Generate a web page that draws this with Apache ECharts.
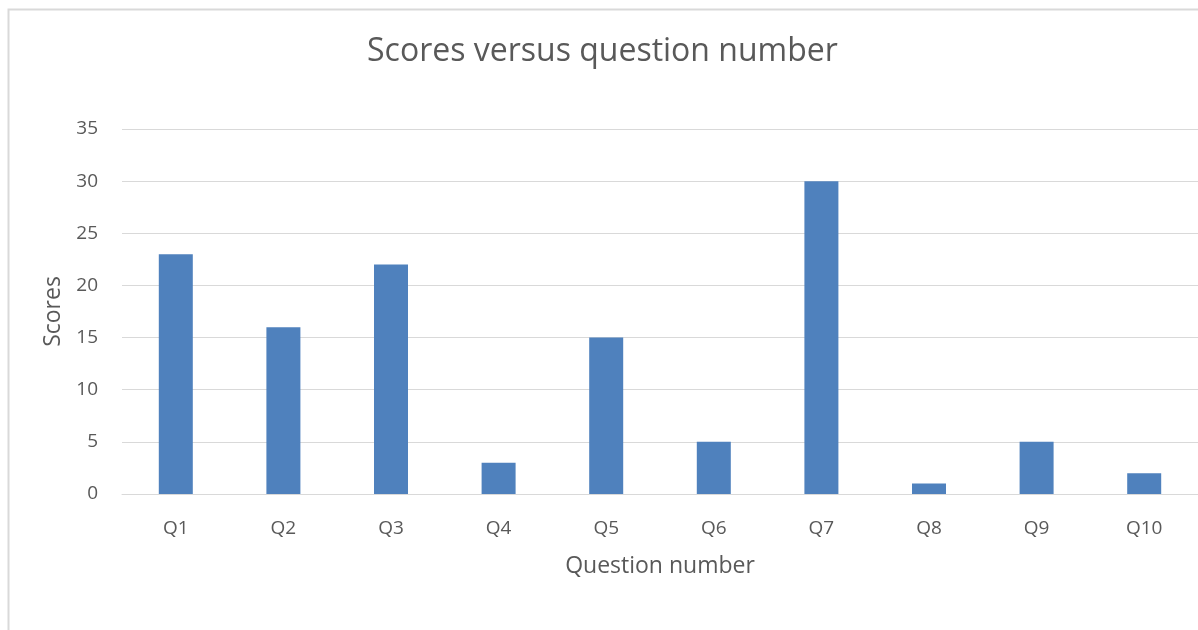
<!DOCTYPE html>
<html><head><meta charset="utf-8">
<script src="https://cdn.jsdelivr.net/npm/echarts@6/dist/echarts.min.js"></script>
<style>html,body{margin:0;padding:0;background:#fff}#c{width:1198px;height:630px}</style>
</head><body><div id="c"></div>
<script>
const categories = ['Q1','Q2','Q3','Q4','Q5','Q6','Q7','Q8','Q9','Q10'];
const scores = [23,16,22,3,15,5,30,1,5,2];
const titleText = 'Scores versus question number';
const xName = 'Question number';
const yName = 'Scores';

const font = 'Open Sans';
const chart = echarts.init(document.getElementById('c'));
chart.setOption({
  animation: false,
  backgroundColor: '#ffffff',
  graphic: [{
    type: 'rect', left: 6, top: 7, silent: true,
    shape: { width: 1400, height: 800 },
    style: { fill: 'none', stroke: '#d9d9d9', lineWidth: 2 }
  }],
  title: {
    text: titleText, left: 362, top: 31,
    textStyle: { fontFamily: font, fontSize: 32, fontWeight: 'normal', color: '#595959' }
  },
  grid: { left: 122, right: -1, top: 129, bottom: 136, containLabel: false },
  xAxis: {
    type: 'category', data: categories,
    name: xName, nameLocation: 'middle', nameGap: 61,
    nameTextStyle: { fontFamily: font, fontSize: 23, color: '#595959' },
    axisLine: { lineStyle: { color: '#d9d9d9', width: 1 } },
    axisTick: { show: false },
    axisLabel: { fontFamily: font, fontSize: 19, color: '#595959', margin: 25 }
  },
  yAxis: {
    type: 'value', min: 0, max: 35, interval: 5,
    name: yName, nameLocation: 'middle', nameGap: 57, nameRotate: 90,
    nameTextStyle: { fontFamily: font, fontSize: 23, color: '#595959' },
    axisLine: { show: false }, axisTick: { show: false },
    axisLabel: { fontFamily: font, fontSize: 19, color: '#595959', margin: 24 },
    splitLine: { lineStyle: { color: '#d9d9d9', width: 1 } }
  },
  series: [{
    type: 'bar', data: scores, barWidth: 34,
    itemStyle: { color: '#4f81bd' }
  }]
});
</script></body></html>
